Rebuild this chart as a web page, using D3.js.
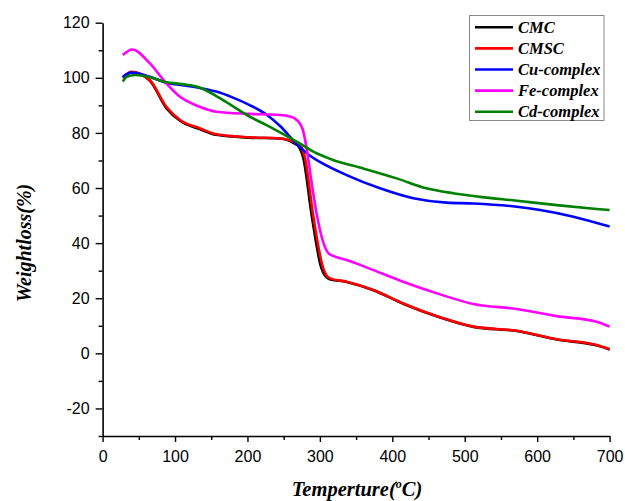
<!doctype html>
<html>
  <head>
    <meta charset="utf-8">
    <title>TGA curves</title>
    <script src="https://cdnjs.cloudflare.com/ajax/libs/d3/7.8.5/d3.min.js"></script>
    <style>
      body { margin: 0; background: #fff; }
      .tick text { font-family: "Liberation Sans", Arial, sans-serif; font-size: 16px; fill: #000; }
      .ttl { font-family: "Liberation Serif", "Times New Roman", serif; font-weight: bold; font-style: italic; }
    </style>
  </head>
  <body>
    <div id="chart"></div>
    <script>
      // series names + colours
      const names = ['CMC', 'CMSC', 'Cu-complex', 'Fe-complex', 'Cd-complex'];
      const colors = ['#000000', '#ff0000', '#0000ff', '#ff00ff', '#008000'];

      // [temperature, weight %]
      const cmc = [[28,100],[40,102],[65,99],[88,89],[107,84.4],[134,81.4],[157,79.3],[203,78.3],[245,78],[266,76],[271,75],[277,71],[289,49.6],[302,31],[312,27.1],[337,25.9],[374,22.9],[415,18],[466,13],[512,9.6],[572,8.1],[627,5],[682,2.9],[700,1.4]];
      const cmsc = [[28,100.2],[40,102.2],[65,99.2],[88,89.5],[107,84.7],[134,81.7],[157,79.5],[203,78.4],[245,78],[268,76.2],[273,75.4],[279,71.4],[291,49.6],[304,31.4],[314,27.2],[337,26],[374,23],[415,18.1],[466,13.1],[512,9.7],[572,8.2],[627,5.1],[682,3],[700,1.5]];
      const cu = [[28,100.4],[40,101.9],[65,100.4],[88,98.2],[110,97.3],[134,96.3],[157,95],[180,92.8],[203,90.1],[227,86.5],[245,82.5],[268,76],[285,72],[300,69.5],[337,64.7],[383,59.9],[429,56.3],[475,54.7],[512,54.4],[572,53.2],[604,52],[650,49.6],[700,46]];
      const fe = [[28,108.3],[41,110.3],[65,105.3],[88,98],[107,93.1],[134,89.5],[157,87.7],[203,86.9],[245,86.5],[258,86],[268,84.7],[276,81.5],[282,74],[288,63],[296,50],[305,40],[312,36.3],[320,35.2],[337,33.9],[374,30.2],[415,26],[466,21.4],[512,17.9],[572,16.1],[627,13.5],[682,11.5],[700,9.7]];
      const cd = [[28,98.6],[33,100.4],[45,101],[65,100.2],[88,98.4],[110,97.7],[134,96.5],[153,94],[167,91.8],[185,88.8],[203,85.9],[225,83],[245,80.2],[272,76.2],[291,73.2],[318,70.2],[360,67.1],[406,63.5],[447,59.9],[484,58.1],[521,56.8],[572,55.4],[627,53.8],[682,52.4],[700,52]];
      const series = [cmc, cmsc, cu, fe, cd];

      const xTicks = [0, 100, 200, 300, 400, 500, 600, 700];
      const yTicks = [-20, 0, 20, 40, 60, 80, 100, 120];

      const W = 625, H = 501;
      const m = {left: 102.6, right: 15.4, top: 22.7, bottom: 65};

      const svg = d3.select('#chart').append('svg')
        .attr('width', W)
        .attr('height', H);

      const x = d3.scaleLinear().domain([0, 700]).range([m.left, W - m.right]);
      const y = d3.scaleLinear().domain([-30, 120]).range([H - m.bottom, m.top]);

      // minor ticks first so major ones draw on top
      svg.append('g')
        .attr('transform', `translate(0,${H - m.bottom})`)
        .call(d3.axisBottom(x).tickValues(d3.range(50, 700, 100)).tickSize(4).tickFormat(''))
        .call(g => g.select('.domain').remove());
      svg.append('g')
        .attr('transform', `translate(${m.left},0)`)
        .call(d3.axisLeft(y).tickValues(d3.range(-30, 120, 20)).tickSize(4).tickFormat(''))
        .call(g => g.select('.domain').remove());

      const xAxis = svg.append('g')
        .attr('transform', `translate(0,${H - m.bottom})`)
        .call(d3.axisBottom(x).tickValues(xTicks).tickSize(6).tickPadding(9).tickSizeOuter(0).tickFormat(d => String(d)));
      const yAxis = svg.append('g')
        .attr('transform', `translate(${m.left},0)`)
        .call(d3.axisLeft(y).tickValues(yTicks).tickSize(7).tickPadding(6).tickSizeOuter(0).tickFormat(d => String(d)));

      svg.selectAll('.domain').attr('stroke-width', 1.6);
      svg.selectAll('.tick line').attr('stroke-width', 1.4);

      // curves
      const line = d3.line()
        .x(d => x(d[0]))
        .y(d => y(d[1]))
        .curve(d3.curveMonotoneX);

      svg.selectAll('path.curve')
        .data(series)
        .join('path')
        .attr('class', 'curve')
        .attr('d', line)
        .attr('fill', 'none')
        .attr('stroke', (d, i) => colors[i])
        .attr('stroke-width', 2.6)
        .attr('stroke-linejoin', 'round');

      // axis titles
      svg.append('text')
        .attr('class', 'ttl')
        .attr('transform', 'translate(31,243) rotate(-90)')
        .attr('text-anchor', 'middle')
        .style('font-size', '20px')
        .text('Weightloss(%)');

      const xt = svg.append('text')
        .attr('class', 'ttl')
        .attr('x', 357)
        .attr('y', 496)
        .attr('text-anchor', 'middle')
        .style('font-size', '20.5px');
      xt.append('tspan').text('Temperture(');
      xt.append('tspan').attr('dy', -8).style('font-size', '12px').text('o');
      xt.append('tspan').attr('dy', 8).text('C)');

      // legend
      const lg = svg.append('g');
      lg.append('rect')
        .attr('x', 469.5).attr('y', 15.5)
        .attr('width', 134.5).attr('height', 105)
        .attr('fill', '#fff')
        .attr('stroke', '#888')
        .attr('stroke-width', 1);

      const rows = lg.selectAll('g.row')
        .data(names)
        .join('g')
        .attr('class', 'row')
        .attr('transform', (d, i) => `translate(0,${27.3 + i * 21.1})`);
      rows.append('line')
        .attr('x1', 475).attr('x2', 513)
        .attr('stroke', (d, i) => colors[i])
        .attr('stroke-width', 2.6);
      rows.append('text')
        .attr('class', 'ttl')
        .attr('x', 518)
        .attr('dy', '0.35em')
        .style('font-size', '16.5px')
        .text(d => d);
    </script>
  </body>
</html>
